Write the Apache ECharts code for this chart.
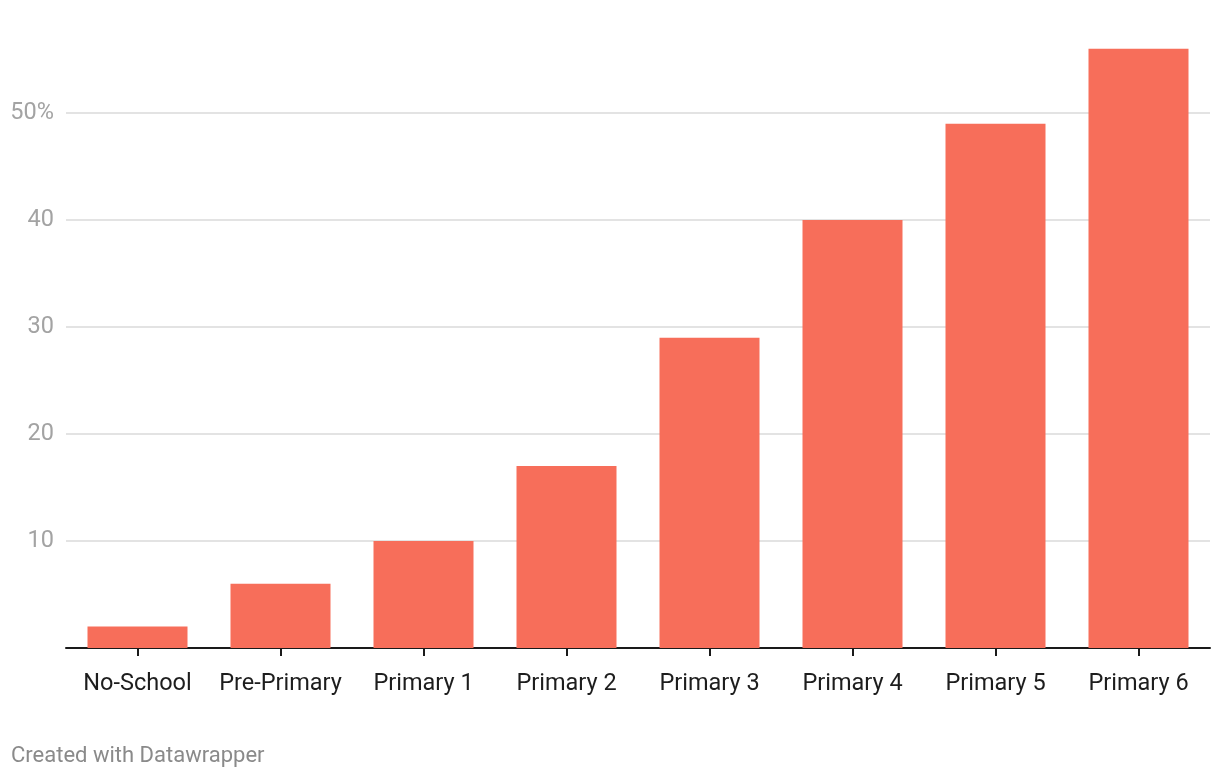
<!DOCTYPE html>
<html>
<head>
<meta charset="utf-8">
<script src="https://cdn.jsdelivr.net/npm/echarts@6/dist/echarts.min.js"></script>
<style>
html,body{margin:0;padding:0;background:#fff;}
#chart{width:1220px;height:778px;}
</style>
</head>
<body>
<div id="chart"></div>
<script>
const categories = ["No-School","Pre-Primary","Primary 1","Primary 2","Primary 3","Primary 4","Primary 5","Primary 6"];
const values = [2, 6, 10, 17, 29, 40, 49, 56];
const yTicks = [10, 20, 30, 40, 50];
const footer = "Created with Datawrapper";

const chart = echarts.init(document.getElementById('chart'), null, {renderer: 'canvas'});
chart.setOption({
  animation: false,
  backgroundColor: '#ffffff',
  textStyle: {fontFamily: 'Roboto'},
  grid: {left: 66, right: 10, top: 6, bottom: 130, containLabel: false},
  graphic: [{
    type: 'text', x: 11, y: 756,
    style: {text: footer, fill: '#8a8a8a', font: '22px Roboto', verticalAlign: 'middle'}
  }],
  xAxis: {
    type: 'category',
    data: categories,
    axisLine: {show: true, lineStyle: {color: '#1a1a1a', width: 2}},
    axisTick: {show: true, alignWithLabel: true, length: 8, lineStyle: {color: '#1a1a1a', width: 2}},
    axisLabel: {color: '#1d1d1d', fontSize: 23.5, margin: 24, interval: 0, fontFamily: 'Roboto'}
  },
  yAxis: {
    type: 'value',
    min: 0, max: 60, interval: 10,
    axisLine: {show: false},
    axisTick: {show: false},
    splitLine: {show: true, showMinLine: false, showMaxLine: false, lineStyle: {color: '#e3e3e3', width: 2}},
    axisLabel: {
      color: '#a3a3a3', fontSize: 23.5, margin: 12, fontFamily: 'Roboto',
      showMinLabel: false, showMaxLabel: false,
      formatter: function (v) {
        if (yTicks.indexOf(v) < 0) return '';
        return v === yTicks[yTicks.length - 1] ? v + '%' : String(v);
      }
    }
  },
  series: [{
    type: 'bar',
    data: values,
    barWidth: 100,
    itemStyle: {color: '#f76e5a'}
  }]
});
</script>
</body>
</html>
